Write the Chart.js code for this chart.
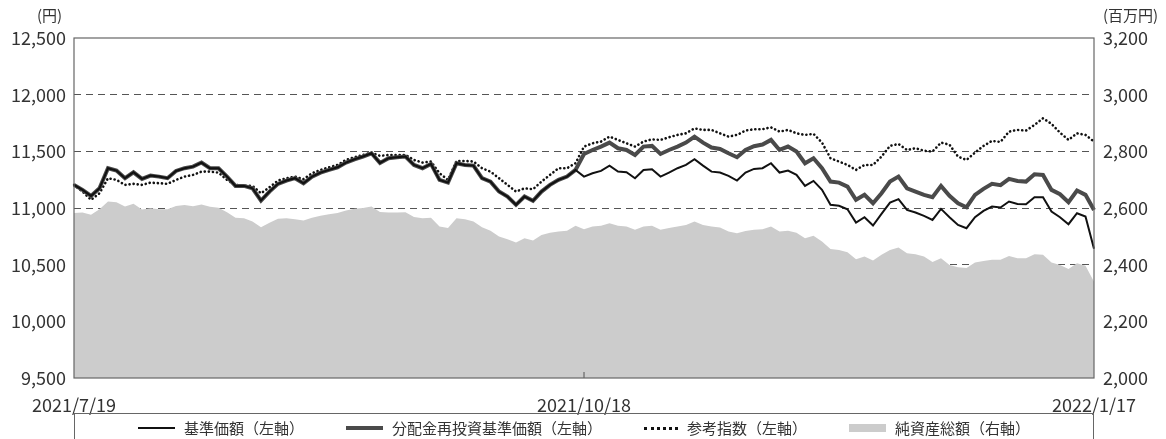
<!DOCTYPE html>
<html>
<head>
<meta charset="utf-8">
<script src="https://cdn.jsdelivr.net/npm/chart.js@4.4.0/dist/chart.umd.min.js"></script>
<style>
body { margin: 0; background: #fff; }
#wrap { position: relative; width: 1166px; height: 439px; overflow: hidden; font-family: "Noto Sans CJK JP", sans-serif; color: #333; }
#chart { position: absolute; left: 0; top: 0; }
.unit { position: absolute; top: 4px; font-size: 15px; }
#legend { position: absolute; left: 74px; top: 413px; width: 1018px; height: 40px; border: 1px solid #666;
  display: flex; justify-content: center; gap: 42px; font-size: 15px; line-height: 28px; }
.item { display: flex; align-items: center; gap: 9px; height: 28px; }
.swatch { width: 37px; }
</style>
</head>
<body>
<div id="wrap">
  <canvas id="chart" width="1166" height="439"></canvas>
  <div class="unit" style="left:37px">(円)</div>
  <div class="unit" style="left:1103px">(百万円)</div>
  <div id="legend">
    <div class="item"><div class="swatch" style="border-top:2px solid #111"></div>基準価額（左軸）</div>
    <div class="item"><div class="swatch" style="border-top:4px solid #4a4a4a"></div>分配金再投資基準価額（左軸）</div>
    <div class="item"><div class="swatch" style="width:34px;border-top:3px dotted #111"></div>参考指数（左軸）</div>
    <div class="item"><div class="swatch" style="height:8px;background:#cccccc"></div>純資産総額（右軸）</div>
  </div>
</div>
<script>
// tick labels on the date axis
const dateLabels = ['2021/7/19', '2021/10/18', '2022/1/17'];
const dateLabelAt = [0, 60, 120];

// 基準価額 (円)
const baseNav = [
  11204, 11160, 11107, 11174, 11351, 11330, 11263, 11315, 11257, 11286,
  11277, 11263, 11327, 11351, 11365, 11401, 11351, 11351, 11277, 11195,
  11195, 11174, 11066, 11145, 11213, 11242, 11263, 11218, 11277, 11312,
  11336, 11359, 11401, 11430, 11454, 11483, 11398, 11439, 11448, 11454,
  11380, 11351, 11389, 11248, 11224, 11395, 11380, 11374, 11263, 11233,
  11145, 11101, 11028, 11101, 11063, 11145, 11204, 11248, 11277, 11336,
  11277, 11307, 11327, 11374, 11321, 11316, 11263, 11336, 11342, 11277,
  11313, 11351, 11380, 11430, 11374, 11321, 11313, 11283, 11242, 11313,
  11345, 11351, 11395, 11313, 11330, 11292, 11195, 11239, 11160, 11028,
  11019, 10989, 10872, 10919, 10845, 10948, 11048, 11078, 10983, 10960,
  10930, 10895, 10992, 10919, 10851, 10822, 10919, 10975, 11013, 11004,
  11057, 11036, 11033, 11095, 11095, 10969, 10919, 10857, 10954, 10925,
  10640
];

// 分配金再投資基準価額 (円)
const reinvestNav = [
  11204, 11160, 11107, 11174, 11351, 11330, 11263, 11315, 11257, 11286,
  11277, 11263, 11327, 11351, 11365, 11401, 11351, 11351, 11277, 11195,
  11195, 11174, 11066, 11145, 11213, 11242, 11263, 11218, 11277, 11312,
  11336, 11359, 11401, 11430, 11454, 11483, 11398, 11439, 11448, 11454,
  11380, 11351, 11389, 11248, 11224, 11395, 11380, 11374, 11263, 11233,
  11145, 11101, 11028, 11101, 11063, 11145, 11204, 11248, 11277, 11336,
  11477, 11512, 11542, 11577, 11527, 11512, 11468, 11542, 11548, 11477,
  11512, 11542, 11577, 11630, 11577, 11533, 11521, 11483, 11448, 11512,
  11545, 11560, 11601, 11512, 11542, 11498, 11395, 11439, 11351, 11233,
  11224, 11189, 11072, 11116, 11042, 11130, 11233, 11277, 11174, 11145,
  11116, 11095, 11195, 11107, 11042, 11007, 11116, 11169, 11213, 11201,
  11257, 11239, 11233, 11298, 11292, 11160, 11122, 11051, 11154, 11116,
  10983
];

// 参考指数
const refIndex = [
  11204, 11145, 11072, 11130, 11263, 11248, 11204, 11213, 11204, 11224,
  11219, 11213, 11248, 11277, 11292, 11321, 11321, 11312, 11248, 11204,
  11195, 11195, 11130, 11183, 11242, 11263, 11277, 11254, 11307, 11336,
  11359, 11380, 11424, 11448, 11468, 11489, 11460, 11468, 11468, 11468,
  11424, 11401, 11410, 11307, 11248, 11415, 11415, 11410, 11351, 11321,
  11263, 11204, 11145, 11174, 11166, 11233, 11292, 11351, 11351, 11395,
  11542, 11571, 11586, 11630, 11601, 11571, 11542, 11586, 11606, 11601,
  11624, 11645, 11659, 11703, 11689, 11689, 11659, 11630, 11645, 11683,
  11695, 11695, 11712, 11674, 11689, 11659, 11645, 11654, 11577, 11439,
  11410, 11380, 11336, 11380, 11380, 11454, 11548, 11565, 11512, 11527,
  11505, 11498, 11577, 11559, 11454, 11424, 11489, 11548, 11592, 11583,
  11674, 11689, 11683, 11733, 11792, 11742, 11665, 11601, 11659, 11645,
  11586
];

// 純資産総額 (百万円)
const netAssets = [
  2582, 2584, 2576, 2596, 2623, 2620, 2605, 2615, 2595, 2599,
  2596, 2596, 2607, 2611, 2606, 2612, 2604, 2601, 2585, 2566,
  2564, 2552, 2532, 2548, 2562, 2564, 2560, 2556, 2566, 2573,
  2578, 2582, 2591, 2597, 2600, 2605, 2586, 2584, 2584, 2585,
  2568, 2564, 2566, 2535, 2529, 2564, 2560, 2552, 2532, 2520,
  2499, 2490, 2478, 2493, 2485, 2505, 2513, 2517, 2520, 2537,
  2525, 2535, 2537, 2546, 2537, 2535, 2523, 2535, 2537, 2523,
  2529, 2535, 2540, 2552, 2540, 2535, 2531, 2517, 2511, 2519,
  2523, 2525, 2535, 2517, 2520, 2513, 2493, 2502, 2482, 2455,
  2452, 2444, 2419, 2429, 2415, 2435, 2452, 2461, 2440, 2437,
  2429, 2409, 2423, 2399, 2391, 2388, 2408, 2413, 2417, 2417,
  2431, 2423, 2423, 2437, 2435, 2408, 2399, 2385, 2405, 2396,
  2340
];

const labels = baseNav.map((v, i) => {
  const k = dateLabelAt.indexOf(i);
  return k >= 0 ? dateLabels[k] : '';
});

const FONT = "'Noto Sans CJK JP', sans-serif";
const fmt = v => v.toLocaleString('en-US');

// frame round the plot and the small tick at the middle date
const framePlugin = {
  id: 'frame',
  afterDatasetsDraw(chart) {
    const { ctx, chartArea: a, scales } = chart;
    ctx.save();
    ctx.strokeStyle = '#666';
    ctx.lineWidth = 1.2;
    ctx.strokeRect(a.left, a.top, a.right - a.left, a.bottom - a.top);
    const mx = scales.x.getPixelForValue(dateLabelAt[1]);
    ctx.beginPath();
    ctx.moveTo(mx, a.bottom - 6);
    ctx.lineTo(mx, a.bottom);
    ctx.stroke();
    ctx.restore();
  }
};

new Chart(document.getElementById('chart'), {
  type: 'line',
  data: {
    labels: labels,
    datasets: [
      {
        label: '基準価額（左軸）',
        data: baseNav,
        yAxisID: 'y',
        borderColor: '#111',
        borderWidth: 2,
        pointRadius: 0,
        order: 1
      },
      {
        label: '分配金再投資基準価額（左軸）',
        data: reinvestNav,
        yAxisID: 'y',
        borderColor: '#4a4a4a',
        borderWidth: 4,
        pointRadius: 0,
        order: 2
      },
      {
        label: '参考指数（左軸）',
        data: refIndex,
        yAxisID: 'y',
        borderColor: '#111',
        borderWidth: 2.6,
        borderDash: [0.1, 4],
        borderCapStyle: 'round',
        pointRadius: 0,
        order: 3
      },
      {
        label: '純資産総額（右軸）',
        data: netAssets,
        yAxisID: 'y2',
        borderWidth: 0,
        backgroundColor: '#cccccc',
        fill: 'start',
        pointRadius: 0,
        order: 4
      }
    ]
  },
  options: {
    responsive: false,
    animation: false,
    layout: { padding: { top: 38, left: 0, right: 0, bottom: 0 } },
    plugins: { legend: { display: false }, tooltip: { enabled: false } },
    elements: { line: { tension: 0 } },
    scales: {
      x: {
        offset: false,
        grid: { display: false },
        border: { display: false },
        afterFit: s => { s.height = 61; },
        ticks: {
          autoSkip: false,
          maxRotation: 0,
          padding: 8,
          color: '#333',
          font: { family: FONT, size: 18 },
          callback: function (v) { return this.getLabelForValue(v) || null; }
        }
      },
      y: {
        position: 'left',
        min: 9500,
        max: 12500,
        afterFit: s => { s.width = 74; },
        grid: {
          drawTicks: false,
          color: c => (c.tick.value === 9500 || c.tick.value === 12500) ? 'rgba(0,0,0,0)' : '#555',
          lineWidth: 1
        },
        border: { display: false, dash: [7, 5] },
        ticks: {
          stepSize: 500,
          padding: 8,
          color: '#333',
          font: { family: FONT, size: 18 },
          callback: v => fmt(v)
        }
      },
      y2: {
        position: 'right',
        min: 2000,
        max: 3200,
        afterFit: s => { s.width = 72; },
        grid: { display: false, drawTicks: false },
        border: { display: false },
        ticks: {
          stepSize: 200,
          padding: 9,
          color: '#333',
          font: { family: FONT, size: 18 },
          callback: v => fmt(v)
        }
      }
    }
  },
  plugins: [framePlugin]
});
</script>
</body>
</html>
